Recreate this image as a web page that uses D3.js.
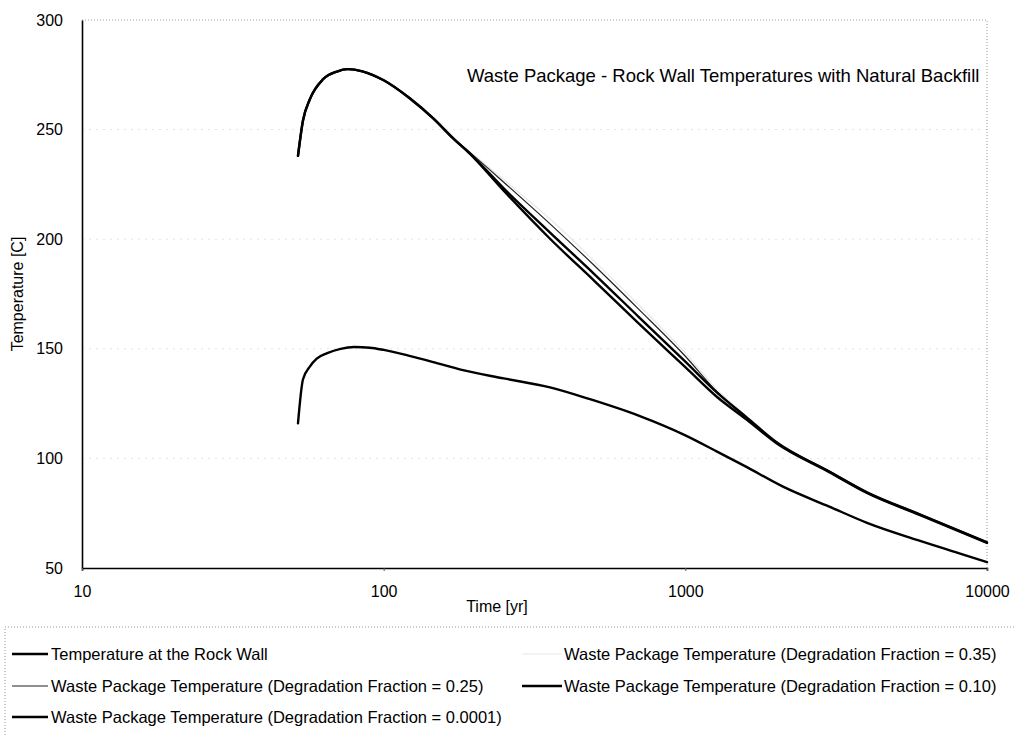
<!DOCTYPE html>
<html>
<head>
<meta charset="utf-8">
<script src="https://cdn.jsdelivr.net/npm/d3@7"></script>
<style>
  html, body { margin: 0; padding: 0; background: #fff; }
  svg { display: block; font-family: "Liberation Sans", Arial, sans-serif; }
</style>
</head>
<body>
<svg id="chart" width="1016" height="737"></svg>
<script>
// Time axis (years) and temperatures (°C) for each curve
const rockTime = [52, 54, 57, 60, 65, 72, 80, 90, 100, 120, 150, 180, 250, 356, 483, 700, 1000, 1274, 1600, 2108, 3000, 4002, 5861, 8000, 10000];
const rockTemp = [116, 136, 142, 145.5, 148, 150, 150.8, 150.5, 149.5, 147, 143.5, 140.5, 136.5, 132.4, 127, 119.5, 110.5, 103.1, 96, 87.1, 78, 70.6, 62.8, 56.9, 52.7];

const wpTime = [52, 54, 57, 63, 70, 76, 85, 100, 122, 146, 170, 193, 250, 356, 500, 700, 1000, 1274, 1600, 2000, 3000, 4000, 6000, 10000];
const wpTemp0001 = [238, 254, 264, 273, 276.5, 277.6, 276.6, 272.5, 264.3, 255.1, 246, 239, 222.1, 200.2, 180.9, 161.6, 141.6, 128.0, 117.6, 107, 93.7, 84.2, 74.1, 61.4];
const wpTemp010  = [238, 254, 264, 273, 276.5, 277.6, 276.6, 272.5, 264.3, 255.1, 246, 239.2, 223.2, 203.0, 184.0, 164.6, 144.1, 130.0, 118.6, 107.5, 94.0, 84.5, 74.4, 61.7];
const wpTemp025  = [238, 254, 264, 273, 276.5, 277.6, 276.6, 272.5, 264.3, 255.1, 246, 239.6, 226.0, 207.0, 187.9, 168.1, 146.6, 130.4, 118.6, 107.6, 94.2, 84.7, 74.6, 61.9];
const wpTemp035  = [238, 254, 264, 273, 276.5, 277.6, 276.6, 272.5, 264.3, 255.1, 246, 240.0, 227.1, 209.2, 189.9, 170.1, 148.1, 131.5, 119.1, 108.0, 94.4, 84.9, 74.8, 62.1];

const seriesNames = [
  "Temperature at the Rock Wall",
  "Waste Package Temperature (Degradation Fraction = 0.35)",
  "Waste Package Temperature (Degradation Fraction = 0.25)",
  "Waste Package Temperature (Degradation Fraction = 0.10)",
  "Waste Package Temperature (Degradation Fraction = 0.0001)"
];
const xTicks = [10, 100, 1000, 10000];
const yTicks = [50, 100, 150, 200, 250, 300];
const chartTitle = "Waste Package - Rock Wall Temperatures with Natural Backfill";

// Line styling per series (same order as seriesNames)
const styles = [
  { stroke: "#000", width: 2.4 },
  { stroke: "#e8e8e8", width: 1.2 },
  { stroke: "#222", width: 1.2 },
  { stroke: "#000", width: 2.4 },
  { stroke: "#000", width: 2.4 }
];

const series = [
  { name: seriesNames[0], t: rockTime, v: rockTemp },
  { name: seriesNames[1], t: wpTime, v: wpTemp035 },
  { name: seriesNames[2], t: wpTime, v: wpTemp025 },
  { name: seriesNames[3], t: wpTime, v: wpTemp010 },
  { name: seriesNames[4], t: wpTime, v: wpTemp0001 }
].map((s, i) => ({ ...s, style: styles[i], pts: s.t.map((t, j) => [t, s.v[j]]) }));

const svg = d3.select("#chart");
const plot = { left: 82, right: 987, top: 20, bottom: 568 };

const x = d3.scaleLog().domain([10, 10000]).range([plot.left, plot.right]);
const y = d3.scaleLinear().domain([50, 300]).range([plot.bottom, plot.top]);

// faint horizontal grid
svg.append("g")
  .selectAll("line")
  .data(yTicks.slice(1, -1))
  .join("line")
  .attr("x1", plot.left).attr("x2", plot.right)
  .attr("y1", d => y(d)).attr("y2", d => y(d))
  .attr("stroke", "#e4e4e4").attr("stroke-width", 1)
  .attr("stroke-dasharray", "2,5");

// dotted top and right frame
svg.append("path")
  .attr("d", `M${plot.left},${plot.top}H${plot.right}V${plot.bottom}`)
  .attr("fill", "none")
  .attr("stroke", "#9a9a9a").attr("stroke-width", 1)
  .attr("stroke-dasharray", "1,2");

// curves
const line = d3.line()
  .x(d => x(d[0]))
  .y(d => y(d[1]))
  .curve(d3.curveMonotoneX);

svg.append("g")
  .selectAll("path")
  .data(series)
  .join("path")
  .attr("d", d => line(d.pts))
  .attr("fill", "none")
  .attr("stroke", d => d.style.stroke)
  .attr("stroke-width", d => d.style.width)
  .attr("stroke-linejoin", "round")
  .attr("stroke-linecap", "round");

// axes
const yAxis = svg.append("g")
  .attr("transform", `translate(${plot.left},0)`)
  .call(d3.axisLeft(y).tickValues(yTicks).tickSize(0).tickPadding(19).tickFormat(d3.format("d")));
yAxis.select(".domain").attr("stroke", "#000").attr("stroke-width", 1.6);
yAxis.selectAll("text").attr("font-size", 16).attr("fill", "#000")
  .attr("font-family", "Liberation Sans, Arial, sans-serif");

const xAxis = svg.append("g")
  .attr("transform", `translate(0,${plot.bottom})`)
  .call(d3.axisBottom(x).tickValues(xTicks).tickSize(3).tickPadding(15).tickFormat(d3.format("d")));
xAxis.select(".domain").attr("stroke", "#000").attr("stroke-width", 1.6);
xAxis.selectAll(".tick line").attr("stroke", "#555");
xAxis.selectAll("text").attr("font-size", 16).attr("fill", "#000")
  .attr("font-family", "Liberation Sans, Arial, sans-serif");

// axis titles
svg.append("text")
  .attr("x", 497).attr("y", 612)
  .attr("text-anchor", "middle")
  .attr("font-size", 16)
  .text("Time [yr]");

svg.append("text")
  .attr("transform", `translate(23,${(plot.top + plot.bottom) / 2}) rotate(-90)`)
  .attr("text-anchor", "middle")
  .attr("font-size", 16)
  .text("Temperature [C]");

// chart title inside plot
svg.append("text")
  .attr("x", 467).attr("y", 82)
  .attr("font-size", 18.5)
  .text(chartTitle);

// legend
const legend = svg.append("g");
legend.append("rect")
  .attr("x", 5).attr("y", 627).attr("width", 1040).attr("height", 130)
  .attr("fill", "none")
  .attr("stroke", "#9a9a9a").attr("stroke-width", 1)
  .attr("stroke-dasharray", "1,2");

const legendRows = [654, 686, 717];
const legendCols = [{ x0: 12, x1: 48, tx: 51 }, { x0: 522, x1: 562, tx: 564 }];
const items = legend.selectAll("g.item")
  .data(series)
  .join("g")
  .attr("class", "item")
  .attr("transform", (d, i) => `translate(0,${legendRows[Math.floor(i / 2)]})`);
items.append("line")
  .attr("x1", (d, i) => legendCols[i % 2].x0)
  .attr("x2", (d, i) => legendCols[i % 2].x1)
  .attr("stroke", d => d.style.stroke)
  .attr("stroke-width", d => d.style.width);
items.append("text")
  .attr("x", (d, i) => legendCols[i % 2].tx)
  .attr("dy", "0.35em")
  .attr("font-size", 16.5)
  .text(d => d.name);
</script>
</body>
</html>
